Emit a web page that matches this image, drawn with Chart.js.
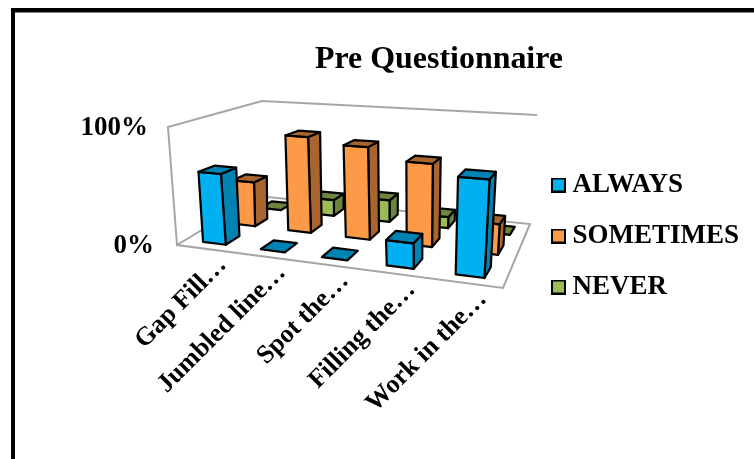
<!DOCTYPE html>
<html>
<head>
<meta charset="utf-8">
<title>Pre Questionnaire</title>
<script src="https://cdn.jsdelivr.net/npm/chart.js@4"></script>
<style>
  html, body { margin: 0; background: #fff; }
  #wrap { position: relative; width: 754px; height: 459px; overflow: hidden; }
</style>
</head>
<body>
<div id="wrap"><canvas id="chart"></canvas></div>
<script>
// Survey answers, as a percentage of respondents per activity.
const categories = ['Gap Fill…', 'Jumbled line…', 'Spot the…', 'Filling the…', 'Work in the…'];
const always = [60, 0, 0, 20, 75];
const sometimes = [40, 85, 80, 70, 25];
const never = [0, 15, 20, 10, 0];

const seriesNames = ['ALWAYS', 'SOMETIMES', 'NEVER'];
const faceColours = ['#00B0F0', '#FD9A47', '#9BBB59'];
const sideColours = ['#0082B2', '#A9652E', '#6E8540'];

const FONT = '"Liberation Serif", "Times New Roman", serif';
const BLACK = '#000';

// Corners of the perspective box: front-left, front-right, back-right, back-left.
const FLOOR = [[177, 245], [503, 288], [530, 224], [258, 196]];
const CEILING = [[168, 127], [513, 153], [537, 115], [262, 101]];
const ROW_FILL = 0.45;   // share of a series row taken up by a bar along the depth axis
const ROW_LEAN = 6;      // sideways drift of the bars, in pixels, from the front row to the back

// Projective map from the unit square on to a quadrilateral.
function quadMap(q) {
  const [[x0, y0], [x1, y1], [x2, y2], [x3, y3]] = q;
  const dx1 = x1 - x2, dx2 = x3 - x2, sx = x0 - x1 + x2 - x3;
  const dy1 = y1 - y2, dy2 = y3 - y2, sy = y0 - y1 + y2 - y3;
  const den = dx1 * dy2 - dx2 * dy1;
  const g = (sx * dy2 - dx2 * sy) / den, h = (dx1 * sy - sx * dy1) / den;
  const a = x1 - x0 + g * x1, b = x3 - x0 + h * x3;
  const d = y1 - y0 + g * y1, e = y3 - y0 + h * y3;
  return (u, v) => {
    const w = g * u + h * v + 1;
    return [(a * u + b * v + x0) / w, (d * u + e * v + y0) / w];
  };
}
const floorAt = quadMap(FLOOR);
const ceilingAt = quadMap(CEILING);

// u: along the categories, v: into the depth, t: height from 0 to 1.
function project(u, v, t) {
  const f = floorAt(u, v), c = ceilingAt(u, v);
  return [f[0] + (c[0] - f[0]) * t, f[1] + (c[1] - f[1]) * t];
}

function projectBar(u, v, t) {
  const p = project(u, v, t);
  return [p[0] + ROW_LEAN * v, p[1]];
}

function polygon(ctx, pts, fill) {
  ctx.beginPath();
  pts.forEach((p, i) => (i ? ctx.lineTo(p[0], p[1]) : ctx.moveTo(p[0], p[1])));
  ctx.closePath();
  ctx.fillStyle = fill;
  ctx.fill();
  ctx.stroke();
}

function polyline(ctx, pts) {
  ctx.beginPath();
  pts.forEach((p, i) => (i ? ctx.lineTo(p[0], p[1]) : ctx.moveTo(p[0], p[1])));
  ctx.stroke();
}

function legendSwatch(colour) {
  const c = document.createElement('canvas');
  c.width = c.height = 15;
  const g = c.getContext('2d');
  g.fillStyle = colour;
  g.fillRect(1, 1, 13, 13);
  g.strokeStyle = BLACK;
  g.lineWidth = 2;
  g.strokeRect(1, 1, 13, 13);
  return c;
}
const swatches = faceColours.map(legendSwatch);

// Draws the bars as boxes inside the perspective box, using the scales for size.
const box3d = {
  id: 'box3d',
  afterLayout(chart) {
    const title = chart.titleBlock, legend = chart.legend;
    title.left = 315; title.right = 563;
    const shift = -5;
    legend.left += shift; legend.right += shift;
  },
  beforeDraw(chart) {
    const ctx = chart.ctx;
    ctx.save();
    ctx.fillStyle = BLACK;
    ctx.fillRect(11, 8, chart.width - 11, 4.5);
    ctx.fillRect(11, 8, 4, chart.height - 8);
    ctx.restore();
  },
  beforeDatasetsDraw(chart) {
    const ctx = chart.ctx;
    ctx.save();
    ctx.strokeStyle = '#A6A6A6';
    ctx.lineWidth = 2;
    ctx.lineJoin = 'miter';
    polyline(ctx, [CEILING[2], CEILING[3], CEILING[0], FLOOR[0], FLOOR[1], FLOOR[2], FLOOR[3], FLOOR[0]]);
    ctx.restore();
  },
  beforeDatasetDraw(chart, args) {
    const ctx = chart.ctx;
    const x = chart.scales.x, y = chart.scales.y;
    const zero = y.getPixelForValue(0), full = y.getPixelForValue(100);
    const rows = chart.data.datasets.length;
    const i = args.index;
    const v0 = (i + 0.5 - ROW_FILL / 2) / rows, v1 = (i + 0.5 + ROW_FILL / 2) / rows;
    ctx.save();
    ctx.strokeStyle = BLACK;
    ctx.lineWidth = 2.2;
    ctx.lineJoin = 'round';
    args.meta.data.forEach(bar => {
      const u0 = (bar.x - bar.width / 2 - x.left) / x.width;
      const u1 = (bar.x + bar.width / 2 - x.left) / x.width;
      const t = (zero - bar.y) / (zero - full);
      const a = projectBar(u0, v0, t), b = projectBar(u1, v0, t);
      const c = projectBar(u1, v1, t), d = projectBar(u0, v1, t);
      const e = projectBar(u0, v0, 0), f = projectBar(u1, v0, 0), g = projectBar(u1, v1, 0);
      if (t > 0) {
        polygon(ctx, [b, c, g, f], sideColours[i]);
        polygon(ctx, [a, b, f, e], faceColours[i]);
      }
      polygon(ctx, [a, b, c, d], sideColours[i]);
    });
    ctx.restore();
    return false;
  },
  afterDatasetsDraw(chart) {
    const ctx = chart.ctx;
    const x = chart.scales.x, y = chart.scales.y;
    const zero = y.getPixelForValue(0), full = y.getPixelForValue(100);
    ctx.save();
    ctx.fillStyle = BLACK;
    ctx.font = 'bold 27px ' + FONT;

    // Value labels follow the front edge of the left wall.
    ctx.textAlign = 'right';
    ctx.textBaseline = 'middle';
    y.ticks.forEach(tick => {
      const t = (zero - y.getPixelForValue(tick.value)) / (zero - full);
      const p = project(0, 0, t);
      ctx.fillText(tick.label, p[0] - 23 + 3 * t, p[1] + 1);
    });

    // Category labels hang off the front edge of the floor.
    ctx.font = 'bold 26px ' + FONT;
    ctx.textBaseline = 'alphabetic';
    x.getLabels().forEach((label, i) => {
      const u = (x.getPixelForValue(i) - x.left) / x.width;
      const p = project(u, 0, 0);
      ctx.save();
      ctx.translate(p[0] + 22, p[1] + 17);
      ctx.rotate(-45 * Math.PI / 180);
      ctx.fillText(label, 0, 0);
      ctx.restore();
    });
    ctx.restore();
  }
};

const seriesValues = [always, sometimes, never];

new Chart(document.getElementById('chart'), {
  type: 'bar',
  plugins: [box3d],
  data: {
    labels: categories,
    datasets: seriesNames.map((name, i) => ({
      label: name,
      data: seriesValues[i],
      backgroundColor: faceColours[i],
      borderColor: BLACK,
      borderWidth: 2,
      grouped: false,
      categoryPercentage: 1,
      barPercentage: 0.4
    }))
  },
  options: {
    responsive: true,
    maintainAspectRatio: false,
    animation: false,
    layout: { padding: { top: 33, left: 20, right: 0, bottom: 20 } },
    scales: {
      x: { display: false },
      y: {
        display: false,
        min: 0,
        max: 100,
        ticks: { stepSize: 100, callback: v => v + '%' }
      }
    },
    plugins: {
      tooltip: { enabled: false },
      title: {
        display: true,
        text: 'Pre Questionnaire',
        color: BLACK,
        font: { family: FONT, size: 32, weight: 'bold', lineHeight: 1.15 },
        padding: { top: 8, bottom: 20 }
      },
      legend: {
        display: true,
        position: 'right',
        labels: {
          color: BLACK,
          font: { family: FONT, size: 27, weight: 'bold' },
          usePointStyle: true,
          pointStyleWidth: 1,
          boxHeight: 14,
          padding: 24,
          generateLabels(chart) {
            return Chart.defaults.plugins.legend.labels.generateLabels(chart)
              .map((item, i) => Object.assign(item, { pointStyle: swatches[i] }));
          }
        }
      }
    }
  }
});
</script>
</body>
</html>
